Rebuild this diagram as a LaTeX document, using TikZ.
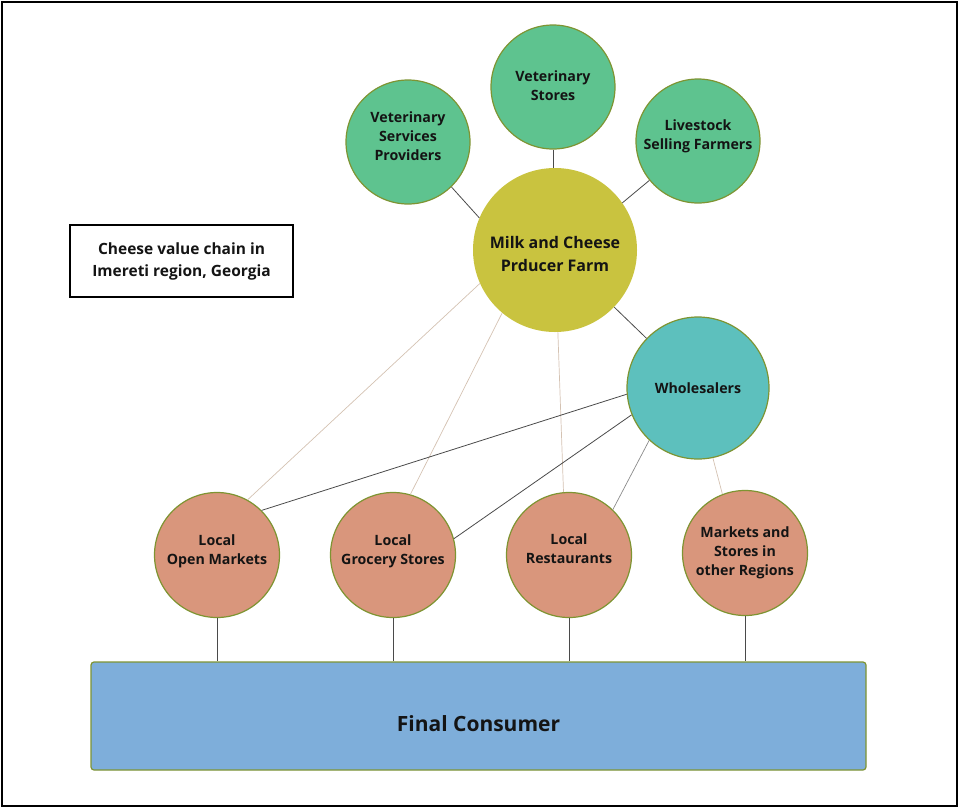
\documentclass[tikz,border=0pt]{standalone}
\usepackage{fontspec}
\setmainfont{Open Sans}

\definecolor{vetgreen}{HTML}{5EC38F}
\definecolor{rimolive}{HTML}{7E9432}
\definecolor{farmyellow}{HTML}{C9C33F}
\definecolor{wholeteal}{HTML}{5DC0BD}
\definecolor{retailsalmon}{HTML}{D9967C}
\definecolor{consumerblue}{HTML}{7EAEDA}
\definecolor{darklink}{HTML}{4A4A4A}
\definecolor{midlink}{HTML}{8A8A8A}
\definecolor{lightlink}{HTML}{D4C2B2}
\definecolor{inktext}{HTML}{141414}

% stacked, centred lines shifted up (or down) without changing their box size
\newcommand{\liftlines}[2]{\raisebox{#1}[\height][\depth]{\begin{tabular}{@{}c@{}}#2\end{tabular}}}

\tikzset{
  bubble/.style={circle, inner sep=0pt, align=center, text=inktext,
    font=\bfseries\fontsize{14.2}{19}\selectfont},
  supplier/.style={bubble, draw=rimolive, line width=1.2pt, fill=vetgreen, minimum size=124pt},
  farm/.style={bubble, fill=farmyellow, minimum size=164pt,
    font=\bfseries\fontsize{16}{23}\selectfont},
  wholesale/.style={bubble, draw=rimolive, line width=1.2pt, fill=wholeteal, minimum size=142pt},
  retail/.style={bubble, draw=rimolive, line width=1.2pt, fill=retailsalmon, minimum size=125pt},
  consumerbox/.style={rectangle, rounded corners=3pt, draw=rimolive, line width=1.2pt,
    fill=consumerblue, minimum width=775pt, minimum height=108pt, text=inktext,
    font=\bfseries\fontsize{21}{24}\selectfont},
  titlebox/.style={rectangle, draw=black, line width=1.2pt, fill=white, align=center,
    minimum width=223pt, minimum height=72pt, text=inktext,
    font=\bfseries\fontsize{15.5}{22}\selectfont},
  strong/.style={draw=darklink, line width=0.8pt},
  medium/.style={draw=midlink, line width=0.7pt},
  faint/.style={draw=lightlink, line width=0.7pt},
  drop/.style={draw=darklink, line width=0.8pt},
}

\begin{document}
\begin{tikzpicture}[x=1pt, y=-1pt]
  \useasboundingbox (0,0) rectangle (960,809);
  \draw[line width=2pt] (2,2) rectangle (957,806);

  % suppliers
  \node[supplier] (vsp) at (408,142) {\liftlines{4pt}{Veterinary\\Services\\Providers}};
  \node[supplier] (vst) at (553,87) {\liftlines{0pt}{Veterinary\\Stores}};
  \node[supplier] (lsf) at (698,141) {\liftlines{5pt}{Livestock\\Selling Farmers}};

  % producer and wholesale
  \node[farm] (farm) at (555,250) {\liftlines{-5pt}{Milk and Cheese\\Prducer Farm}};
  \node[wholesale] (whs) at (698,388) {Wholesalers};

  % retail outlets
  \node[retail] (lom) at (217,555) {\liftlines{4pt}{Local\\Open Markets}};
  \node[retail] (lgs) at (393,555) {\liftlines{4pt}{Local\\Grocery Stores}};
  \node[retail] (lrs) at (569,555) {\liftlines{5pt}{Local\\Restaurants}};
  \node[retail] (mor) at (745,553) {\liftlines{0pt}{Markets and\\Stores in\\other Regions}};

  % consumer and title
  \node[consumerbox] (fc) at (478.5,716) {\raisebox{-8pt}[\height][\depth]{Final Consumer}};
  \node[titlebox] (title) at (181.5,261) {Cheese value chain in\\Imereti region, Georgia};

  % inputs to the farm
  \draw[strong] (vsp.314) -- (farm.157);
  \draw[strong] (vst.south) -- (vst.south |- farm.north);
  \draw[strong] (lsf.219) -- (farm.35);
  \draw[strong] (farm) -- (whs);

  % direct sales from the farm
  \draw[faint] (farm.204) -- (lom.61);
  \draw[faint] (farm.230) -- (lgs.74);
  \draw[faint] (farm.272) -- (lrs.95);

  % sales through wholesalers
  \draw[strong] (whs.185) -- (lom.45);
  \draw[strong] (whs.202) -- (lgs.15);
  \draw[medium] (whs.227) -- (lrs.46);
  \draw[faint] (whs.282) -- (mor.111);

  % outlets to consumer
  \foreach \o in {lom,lgs,lrs,mor}
    \draw[drop] (\o.south) -- (\o.south |- fc.north);
\end{tikzpicture}
\end{document}
